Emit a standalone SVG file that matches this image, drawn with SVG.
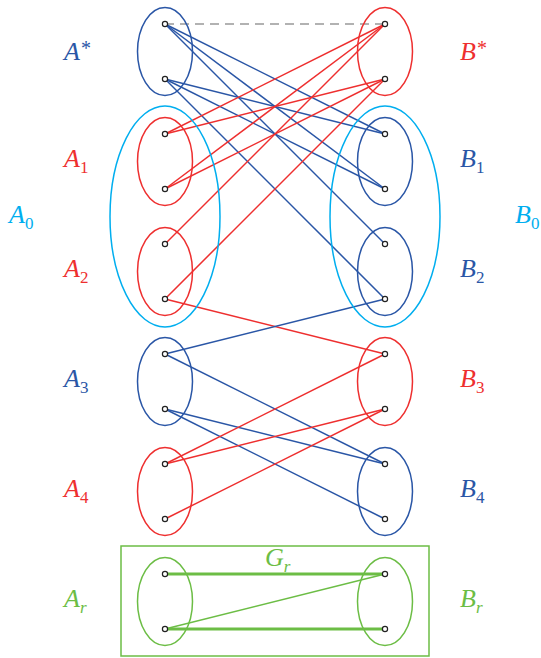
<svg xmlns="http://www.w3.org/2000/svg" width="541" height="658" viewBox="0 0 541 658">
<style>
.bl{stroke:#2a56a6;fill:none;stroke-width:1.5}
.rd{stroke:#ee2f2f;fill:none;stroke-width:1.5}
.cy{stroke:#00aeef;fill:none;stroke-width:1.5}
.gr{stroke:#6cbd45;fill:none;stroke-width:1.5}
.grt{stroke:#6cbd45;fill:none;stroke-width:2.8}
.dash{stroke:#999;stroke-width:1.4;stroke-dasharray:9 6;fill:none}
.v{fill:#fff;stroke:#222;stroke-width:1.2}
text{font-family:"Liberation Serif","Times New Roman",serif;font-style:italic;font-size:26px}
.sub{font-style:normal;font-size:17px}
.sup{font-style:normal;font-size:20px}
.tb{fill:#2a56a6}.tr{fill:#ee2f2f}.tc{fill:#00aeef}.tg{fill:#6cbd45}
</style>
<g id="connectors">
<line class="dash" x1="165" y1="24" x2="385" y2="24"/>
<line class="bl" x1="165" y1="24" x2="385" y2="134"/>
<line class="bl" x1="165" y1="24" x2="385" y2="189"/>
<line class="bl" x1="165" y1="24" x2="385" y2="244"/>
<line class="bl" x1="165" y1="79" x2="385" y2="134"/>
<line class="bl" x1="165" y1="79" x2="385" y2="189"/>
<line class="bl" x1="165" y1="79" x2="385" y2="299"/>
<line class="rd" x1="385" y1="24" x2="165" y2="134"/>
<line class="rd" x1="385" y1="24" x2="165" y2="189"/>
<line class="rd" x1="385" y1="24" x2="165" y2="244"/>
<line class="rd" x1="385" y1="79" x2="165" y2="134"/>
<line class="rd" x1="385" y1="79" x2="165" y2="189"/>
<line class="rd" x1="385" y1="79" x2="165" y2="299"/>
<line class="rd" x1="165" y1="299" x2="385" y2="354"/>
<line class="bl" x1="385" y1="299" x2="165" y2="354"/>
<line class="bl" x1="165" y1="354" x2="385" y2="464"/>
<line class="bl" x1="165" y1="409" x2="385" y2="464"/>
<line class="bl" x1="165" y1="409" x2="385" y2="519"/>
<line class="rd" x1="165" y1="464" x2="385" y2="354"/>
<line class="rd" x1="165" y1="464" x2="385" y2="409"/>
<line class="rd" x1="165" y1="519" x2="385" y2="409"/>
<line class="grt" x1="165" y1="574" x2="385" y2="574"/>
<line class="gr" x1="165" y1="629" x2="385" y2="574"/>
<line class="grt" x1="165" y1="629" x2="385" y2="629"/>
</g>
<g id="A0"><ellipse class="cy" cx="165" cy="216.5" rx="55" ry="110.5"/><text class="tc" x="9" y="223">A<tspan class="sub" dx="0" dy="6">0</tspan></text></g>
<g id="B0"><ellipse class="cy" cx="385" cy="216.5" rx="55" ry="110.5"/><text class="tc" x="515" y="223">B<tspan class="sub" dx="0" dy="6">0</tspan></text></g>
<g id="Gr"><rect class="gr" x="121" y="546" width="308" height="110"/><text class="tg" x="265" y="566">G<tspan class="sub" style="font-style:italic" dx="0" dy="6">r</tspan></text></g>
<g id="Astar"><ellipse class="bl" cx="165" cy="51.5" rx="27.5" ry="44"/><circle class="v" cx="165" cy="24" r="2.6"/><circle class="v" cx="165" cy="79" r="2.6"/><text class="tb" x="64" y="60">A<tspan class="sup" dx="1" dy="-5">*</tspan></text></g>
<g id="A1"><ellipse class="rd" cx="165" cy="161.5" rx="27.5" ry="44"/><circle class="v" cx="165" cy="134" r="2.6"/><circle class="v" cx="165" cy="189" r="2.6"/><text class="tr" x="64" y="167">A<tspan class="sub" dx="0" dy="6">1</tspan></text></g>
<g id="A2"><ellipse class="rd" cx="165" cy="271.5" rx="27.5" ry="44"/><circle class="v" cx="165" cy="244" r="2.6"/><circle class="v" cx="165" cy="299" r="2.6"/><text class="tr" x="64" y="277">A<tspan class="sub" dx="0" dy="6">2</tspan></text></g>
<g id="A3"><ellipse class="bl" cx="165" cy="381.5" rx="27.5" ry="44"/><circle class="v" cx="165" cy="354" r="2.6"/><circle class="v" cx="165" cy="409" r="2.6"/><text class="tb" x="64" y="387">A<tspan class="sub" dx="0" dy="6">3</tspan></text></g>
<g id="A4"><ellipse class="rd" cx="165" cy="491.5" rx="27.5" ry="44"/><circle class="v" cx="165" cy="464" r="2.6"/><circle class="v" cx="165" cy="519" r="2.6"/><text class="tr" x="64" y="497">A<tspan class="sub" dx="0" dy="6">4</tspan></text></g>
<g id="Ar"><ellipse class="gr" cx="165" cy="601.5" rx="27.5" ry="44"/><circle class="v" cx="165" cy="574" r="2.6"/><circle class="v" cx="165" cy="629" r="2.6"/><text class="tg" x="64" y="607">A<tspan class="sub" style="font-style:italic" dx="0" dy="6">r</tspan></text></g>
<g id="Bstar"><ellipse class="rd" cx="385" cy="51.5" rx="27.5" ry="44"/><circle class="v" cx="385" cy="24" r="2.6"/><circle class="v" cx="385" cy="79" r="2.6"/><text class="tr" x="460" y="60">B<tspan class="sup" dx="1" dy="-5">*</tspan></text></g>
<g id="B1"><ellipse class="bl" cx="385" cy="161.5" rx="27.5" ry="44"/><circle class="v" cx="385" cy="134" r="2.6"/><circle class="v" cx="385" cy="189" r="2.6"/><text class="tb" x="460" y="167">B<tspan class="sub" dx="0" dy="6">1</tspan></text></g>
<g id="B2"><ellipse class="bl" cx="385" cy="271.5" rx="27.5" ry="44"/><circle class="v" cx="385" cy="244" r="2.6"/><circle class="v" cx="385" cy="299" r="2.6"/><text class="tb" x="460" y="277">B<tspan class="sub" dx="0" dy="6">2</tspan></text></g>
<g id="B3"><ellipse class="rd" cx="385" cy="381.5" rx="27.5" ry="44"/><circle class="v" cx="385" cy="354" r="2.6"/><circle class="v" cx="385" cy="409" r="2.6"/><text class="tr" x="460" y="387">B<tspan class="sub" dx="0" dy="6">3</tspan></text></g>
<g id="B4"><ellipse class="bl" cx="385" cy="491.5" rx="27.5" ry="44"/><circle class="v" cx="385" cy="464" r="2.6"/><circle class="v" cx="385" cy="519" r="2.6"/><text class="tb" x="460" y="497">B<tspan class="sub" dx="0" dy="6">4</tspan></text></g>
<g id="Br"><ellipse class="gr" cx="385" cy="601.5" rx="27.5" ry="44"/><circle class="v" cx="385" cy="574" r="2.6"/><circle class="v" cx="385" cy="629" r="2.6"/><text class="tg" x="460" y="607">B<tspan class="sub" style="font-style:italic" dx="0" dy="6">r</tspan></text></g>
</svg>
